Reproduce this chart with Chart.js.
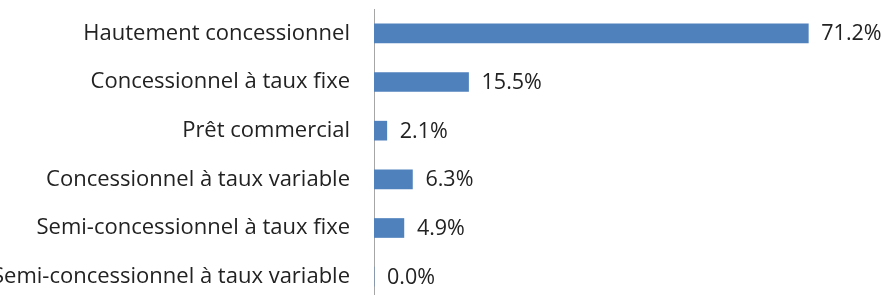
<!DOCTYPE html>
<html>
<head>
<meta charset="utf-8">
<script src="https://cdn.jsdelivr.net/npm/chart.js@4/dist/chart.umd.min.js"></script>
<style>
  html, body { margin: 0; padding: 0; background: #fff; overflow: hidden; height: 295px; }
  canvas { display: block; }
</style>
</head>
<body>
<canvas id="chart" width="882" height="301"></canvas>
<script>
// Categories and values (percent)
const categories = [
    'Hautement concessionnel',
    'Concessionnel à taux fixe',
    'Prêt commercial',
    'Concessionnel à taux variable',
    'Semi-concessionnel à taux fixe',
    'Semi-concessionnel à taux variable'
];
const shares = [71.2, 15.5, 2.1, 6.3, 4.9, 0.0];

const FONT = '"Open Sans", sans-serif';

// Draw the value labels to the right of each bar
const valueLabels = {
    id: 'valueLabels',
    afterDatasetsDraw(chart) {
        const ctx = chart.ctx;
        const meta = chart.getDatasetMeta(0);
        ctx.save();
        ctx.font = '21.5px ' + FONT;
        ctx.fillStyle = '#222';
        ctx.textAlign = 'left';
        ctx.textBaseline = 'middle';
        meta.data.forEach(function (bar, i) {
            ctx.fillText(shares[i].toFixed(1) + '%', bar.x + 13, bar.y + 1);
        });
        ctx.restore();
    }
};

new Chart(document.getElementById('chart'), {
    type: 'bar',
    data: {
        labels: categories,
        datasets: [{
            data: shares,
            backgroundColor: '#4F81BD',
            borderWidth: 0,
            barThickness: 19
        }]
    },
    options: {
        indexAxis: 'y',
        responsive: false,
        animation: false,
        layout: { padding: { top: 9, right: 20, bottom: 0, left: 0 } },
        plugins: {
            legend: { display: false },
            tooltip: { enabled: false }
        },
        scales: {
            x: {
                display: false,
                min: 0,
                max: 80
            },
            y: {
                afterFit: function (scale) {
                    scale.width = 374;
                    scale.paddingTop = 0;
                    scale.paddingBottom = 0;
                },
                grid: { display: false, drawTicks: false },
                border: { display: true, color: '#a6a6a6', width: 1 },
                ticks: {
                    color: '#222',
                    padding: 24,
                    font: { family: FONT, size: 22 }
                }
            }
        }
    },
    plugins: [valueLabels]
});
</script>
</body>
</html>
